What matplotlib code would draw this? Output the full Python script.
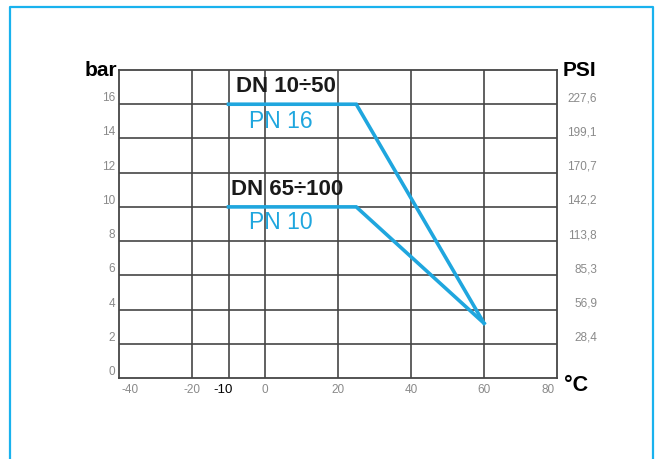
import matplotlib
matplotlib.use('Agg')
import matplotlib.pyplot as plt
import matplotlib.transforms as mtransforms

# pressure / temperature curves
temp_pn16 = [-10, 25, 60]
bar_pn16 = [16, 16, 3.2]
temp_pn10 = [-10, 25, 60]
bar_pn10 = [10, 10, 3.2]

x_ticks = [-40, -20, -10, 0, 20, 40, 60, 80]
x_labels = ['-40', '-20', '-10', '0', '20', '40', '60', '80']
bar_ticks = [0, 2, 4, 6, 8, 10, 12, 14, 16]
bar_labels = ['0', '2', '4', '6', '8', '10', '12', '14', '16']
psi_ticks = [2, 4, 6, 8, 10, 12, 14, 16]
psi_labels = ['28,4', '56,9', '85,3', '113,8', '142,2', '170,7', '199,1', '227,6']

blue = '#1fa6de'
grid_col = '#454545'
tick_col = '#8a8a8a'
plt.rcParams['font.family'] = ['Liberation Sans', 'DejaVu Sans']

fig = plt.figure(figsize=(6.56, 4.59), dpi=100)
ax = fig.add_axes([119/656, 1 - 378/459, 438/656, 308/459])
ax.set_xlim(-40, 80)
ax.set_ylim(0, 18)

# frame around the whole picture (open at the bottom)
fig.add_artist(plt.Line2D([10/656, 10/656, 653/656, 653/656],
                          [0, 1 - 7/459, 1 - 7/459, 0],
                          transform=fig.transFigure, color='#19b2ee', lw=1.6))

# grid
for xv in x_ticks[1:-1]:
    ax.axvline(xv, color=grid_col, lw=1.2, zorder=1)
for yv in bar_ticks[1:]:
    ax.axhline(yv, color=grid_col, lw=1.2, zorder=1)
for s in ax.spines.values():
    s.set_color(grid_col)
    s.set_linewidth(1.3)
ax.set_xticks([])
ax.set_yticks([])

# curves
ax.plot(temp_pn16, bar_pn16, color=blue, lw=2.6, solid_joinstyle='miter', zorder=3)
ax.plot(temp_pn10, bar_pn10, color=blue, lw=2.6, solid_joinstyle='miter', zorder=3)

# tick labels
left_tr = mtransforms.offset_copy(
    mtransforms.blended_transform_factory(ax.transAxes, ax.transData),
    fig=fig, x=-4, y=6, units='dots')
for yv, lab in zip(bar_ticks, bar_labels):
    ax.text(0, yv, lab, transform=left_tr, ha='right', va='center',
            fontsize=8.5, color=tick_col)
right_tr = mtransforms.offset_copy(
    mtransforms.blended_transform_factory(ax.transAxes, ax.transData),
    fig=fig, x=40, y=6, units='dots')
for yv, lab in zip(psi_ticks, psi_labels):
    ax.text(1, yv, lab, transform=right_tr, ha='right', va='center',
            fontsize=8.5, color=tick_col)

bot_tr = mtransforms.offset_copy(
    mtransforms.blended_transform_factory(ax.transData, ax.transAxes),
    fig=fig, x=0, y=-12, units='dots')
for xv, lab in zip(x_ticks, x_labels):
    dx = 0
    if xv == -40:
        dx = 3
    elif xv == 80:
        dx = -2.5
    elif xv == -10:
        dx = -1.5
    if lab == '-10':
        ax.text(xv + dx, 0, lab, transform=bot_tr, ha='center', va='center',
                fontsize=9.5, color='black')
    else:
        ax.text(xv + dx, 0, lab, transform=bot_tr, ha='center', va='center',
                fontsize=8.5, color=tick_col)

# axis names
ax.text(-0.003, 1.0, 'bar', transform=ax.transAxes, ha='right', va='center',
        fontsize=15, fontweight='bold')
ax.text(1.013, 1.0, 'PSI', transform=ax.transAxes, ha='left', va='center',
        fontsize=15, fontweight='bold')
ax.text(1.015, -0.025, '°C', transform=ax.transAxes, ha='left', va='center',
        fontsize=15.5, fontweight='bold')

# series annotations
ax.text(-8, 17.05, 'DN 10÷50', ha='left', va='center', fontsize=16,
        fontweight='bold', color='#1a1a1a')
ax.text(-4.5, 15.0, 'PN 16', ha='left', va='center', fontsize=16.5, color=blue)
ax.text(-9.3, 11.0, 'DN 65÷100', ha='left', va='center', fontsize=16,
        fontweight='bold', color='#1a1a1a')
ax.text(-4.5, 9.1, 'PN 10', ha='left', va='center', fontsize=16.5, color=blue)

fig.savefig('out.png', dpi=100)
